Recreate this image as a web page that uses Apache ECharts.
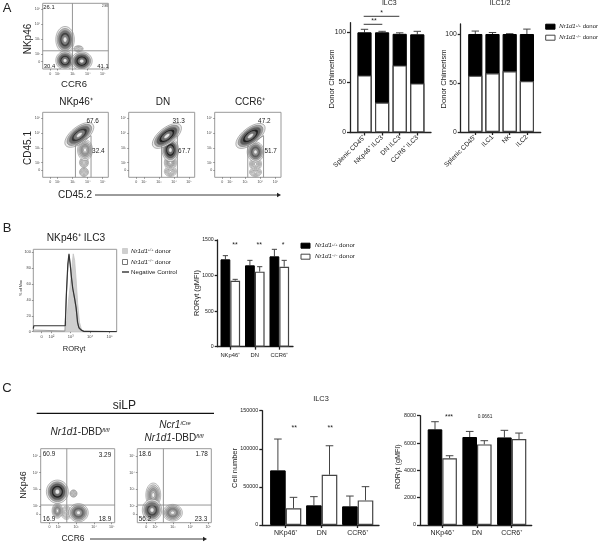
<!DOCTYPE html>
<html>
<head>
<meta charset="utf-8">
<title>Nr1d1 ILC3 figure</title>
<script src="https://cdn.jsdelivr.net/npm/echarts@6/dist/echarts.min.js"></script>
<style>
  html, body { margin: 0; padding: 0; background: #fff; }
  #chart { width: 600px; height: 543px; }
</style>
</head>
<body>
<div id="chart"></div>
<script>
// ---- flow axes (log decades) ----
const flowTickValues = [1.5, 2, 3, 4, 5];
const flowTickLabels = ['0', '10²', '10³', '10⁴', '10⁵'];

// contour blobs: x, y, x radius, y radius, tilt in degrees, density
const blobsTop = [[3.38, 2.36, 0.32, 0.2, 0, 0], [2.49, 2.97, 0.62, 0.88, 0, 0.85], [2.49, 1.57, 0.62, 0.62, 0, 0.95], [3.6, 1.53, 0.7, 0.62, 0, 1]];
const blobsNkp = [[3.75, 1.35, 0.3, 0.3, 0, 0], [3.75, 2.0, 0.3, 0.35, 0, 0.06], [3.82, 2.85, 0.5, 0.7, 0, 0.45], [3.44, 3.87, 1.15, 0.55, 38, 0.9]];
const blobsDn = [[3.76, 1.4, 0.4, 0.35, 0, 0.1], [3.76, 2.0, 0.4, 0.5, 0, 0.3], [3.76, 2.85, 0.55, 0.78, 0, 1], [3.53, 3.8, 1.15, 0.55, 38, 1]];
const blobsCcr = [[3.69, 1.35, 0.4, 0.3, 0, 0.05], [3.69, 1.9, 0.4, 0.45, 0, 0.15], [3.69, 2.72, 0.55, 0.68, 0, 0.75], [3.36, 3.8, 1.15, 0.55, 38, 1]];
const blobsWt = [[2.85, 2.75, 0.2, 0.22, 0, 0], [2.45, 1.6, 0.3, 0.4, 0, 0.05], [1.94, 1.72, 0.3, 0.45, 0, 0.5], [3.13, 1.6, 0.55, 0.55, 0, 0.7], [1.94, 2.86, 0.62, 0.7, 0, 1]];
const blobsKo = [[1.9, 2.66, 0.42, 0.72, 0, 0.45], [2.99, 1.6, 0.55, 0.5, 0, 0.55], [1.83, 1.76, 0.55, 0.65, 0, 0.85]];

// gates
const crossTop = [[[2.98, 1], [2.98, 5.4]], [[1, 2.22], [5.37, 2.22]]];
const gateLower = [[3.18, 1], [3.18, 3.15], [4.22, 3.82], [4.22, 1]];
const crossWt = [[[2.47, 1], [2.47, 5.44]], [[1, 2.06], [5.17, 2.06]]];

// histogram, panel B
const histGrey = [[2.7, 0], [2.8, 14], [2.88, 38], [2.98, 60], [3.05, 80], [3.13, 98], [3.2, 90], [3.28, 65], [3.36, 35], [3.45, 12], [3.55, 3], [3.65, 0]];
const histOpen = [[1.07, 2], [2.7, 1], [2.76, 40], [2.85, 80], [2.91, 96], [2.98, 84], [3.05, 66], [3.12, 52], [3.22, 38], [3.3, 24], [3.38, 8], [3.5, 2], [3.7, 1], [5.37, 0]];
const histNeg = [[1.07, 4], [1.1, 7.5], [2.72, 7.5], [2.78, 50], [2.85, 85], [2.91, 98], [2.97, 85], [3.03, 70], [3.1, 55], [3.2, 42], [3.28, 30], [3.35, 12], [3.42, 5], [3.55, 2], [3.7, 0], [5.37, 0]];

// panel A bars: white part, full height of the bar, top of error bar
const ilc3Cats = ['Splenic CD45⁺', 'NKp46⁺ ILC3', 'DN ILC3', 'CCR6⁺ ILC3'];
const ilc3Ko = [57, 30, 67, 49];
const ilc3Total = [100, 100, 98.5, 98];
const ilc3High = [103, 101, 99.5, 101];
const ilc12Cats = ['Splenic CD45⁺', 'ILC1', 'NK', 'ILC2'];
const ilc12Ko = [57.5, 60, 62, 52];
const ilc12Total = [100, 100, 100, 100];
const ilc12High = [103, 101.5, 100.3, 105];

// panel B bars
const groupCats = ['NKp46⁺', 'DN', 'CCR6⁺'];
const rorBWt = [1228, 1144, 1270];
const rorBWtHigh = [1280, 1214, 1369];
const rorBKo = [928, 1055, 1125];
const rorBKoHigh = [947, 1125, 1214];

// panel C bars
const cellWt = [71700, 25800, 24500];
const cellWtHigh = [112800, 37200, 38000];
const cellKo = [21900, 66000, 32300];
const cellKoHigh = [36300, 104000, 50300];
const rorCWt = [7000, 6440, 6410];
const rorCWtHigh = [7560, 6850, 6930];
const rorCKo = [4880, 5900, 6290];
const rorCKoHigh = [5070, 6170, 6730];

const FONT = '"Liberation Sans", Arial, sans-serif';
const INK = '#222';
const option = { animation: false, backgroundColor: '#fff', textStyle: { fontFamily: FONT }, grid: [], xAxis: [], yAxis: [], series: [], graphic: [] };

// density rings, outside in: size ratio, darkness
const RINGS = [[1, 0.1], [0.85, 0.4], [0.7, 0.7], [0.54, 0.95], [0.37, 0.62], [0.2, 0.12]];

function contourItem(params, api) {
  const c = api.coord([api.value(0), api.value(1)]);
  const s = api.size([api.value(2), api.value(3)]);
  const tilt = api.value(4) * Math.PI / 180;
  const density = api.value(5);
  return {
    type: 'group',
    children: RINGS.map(function (r) {
      const g = Math.round(255 - 235 * r[1] * density);
      return {
        type: 'ellipse', x: c[0], y: c[1], rotation: tilt,
        shape: { cx: 0, cy: 0, rx: s[0] * r[0], ry: s[1] * r[0] },
        style: { fill: 'rgb(' + g + ',' + g + ',' + g + ')', stroke: '#777', lineWidth: 0.5 }
      };
    })
  };
}

function errorItem(shift, cap) {
  return function (params, api) {
    const top = api.coord([api.value(0), api.value(1)]);
    const high = api.coord([api.value(0), api.value(2)]);
    const x = top[0] + shift;
    const lineStyle = { stroke: '#444', lineWidth: 1 };
    return {
      type: 'group',
      children: [
        { type: 'line', shape: { x1: x, y1: top[1], x2: x, y2: high[1] }, style: lineStyle },
        { type: 'line', shape: { x1: x - cap, y1: high[1], x2: x + cap, y2: high[1] }, style: lineStyle }
      ]
    };
  };
}

function addGrid(left, top, right, bottom, border) {
  option.grid.push({
    left: left, top: top, width: right - left, height: bottom - top, containLabel: false,
    show: !!border, borderColor: '#999', borderWidth: border ? 1 : 0, backgroundColor: 'transparent'
  });
  return option.grid.length - 1;
}

function flowPanel(box, range, blobs, gates) {
  const idx = addGrid(box[0], box[1], box[2], box[3], true);
  const tickText = function (v) { return flowTickLabels[flowTickValues.indexOf(v)]; };
  const axis = function (min, max) {
    return {
      type: 'value', gridIndex: idx, min: min, max: max, splitLine: { show: false },
      axisLine: { show: false },
      axisTick: { show: true, length: 1.5, customValues: flowTickValues, lineStyle: { color: '#555', width: 0.6 } },
      axisLabel: { show: true, customValues: flowTickValues, formatter: tickText, fontSize: 3.6, margin: 2.5, color: '#444', fontFamily: FONT }
    };
  };
  option.xAxis.push(axis(1, range[0]));
  option.yAxis.push(axis(1, range[1]));
  option.series.push({ type: 'custom', xAxisIndex: idx, yAxisIndex: idx, renderItem: contourItem, data: blobs, clip: true, encode: { x: 0, y: 1 } });
  gates.forEach(function (g) {
    option.series.push({ type: 'line', xAxisIndex: idx, yAxisIndex: idx, data: g, symbol: 'none', lineStyle: { color: '#8a8a8a', width: 0.9 }, z: 3 });
  });
}

function barPanel(p) {
  const idx = addGrid(p.left, p.top, p.right, p.bottom, false);
  const xMin = 1 - (p.first - p.left) / p.band;
  const slots = p.cats.map(function (c, i) { return i + 1; });
  const axisStyle = { color: '#222', width: 1.3 };
  option.xAxis.push({
    type: 'value', gridIndex: idx, min: xMin, max: xMin + (p.right - p.left) / p.band, splitLine: { show: false },
    axisLine: { show: true, lineStyle: axisStyle },
    axisTick: { show: true, length: 3, customValues: slots, lineStyle: axisStyle },
    axisLabel: {
      show: true, customValues: slots, formatter: function (v) { return p.cats[v - 1]; },
      rotate: p.rotate || 0, fontSize: p.xFont, margin: p.xMargin, color: INK, fontFamily: FONT
    }
  });
  option.yAxis.push({
    type: 'value', gridIndex: idx, min: 0, max: p.yMax, splitLine: { show: false },
    axisLine: { show: true, lineStyle: axisStyle },
    axisTick: { show: true, length: 3, customValues: p.ticks, lineStyle: axisStyle },
    axisLabel: { show: true, customValues: p.ticks, formatter: function (v) { return String(v); }, fontSize: p.yFont, margin: 4, color: INK, fontFamily: FONT }
  });
  return { idx: idx, slots: slots };
}

function pairs(xs, ys) { return xs.map(function (x, i) { return [x, ys[i]]; }); }

const blackBar = { color: '#000', borderColor: '#000', borderWidth: 1 };
const whiteBar = { color: '#fff', borderColor: '#444', borderWidth: 1.2 };

// black bar to the full height, white part drawn over its lower end
function stackedBars(p, ko, total, high) {
  const b = barPanel(p);
  const common = { type: 'bar', xAxisIndex: b.idx, yAxisIndex: b.idx, barWidth: p.barWidth, barGap: '-100%' };
  option.series.push(Object.assign({ data: pairs(b.slots, total), itemStyle: blackBar }, common));
  option.series.push(Object.assign({ data: pairs(b.slots, ko), itemStyle: whiteBar }, common));
  option.series.push({
    type: 'custom', xAxisIndex: b.idx, yAxisIndex: b.idx, renderItem: errorItem(0, p.cap), z: 1,
    data: b.slots.map(function (s, i) { return [s, total[i], high[i]]; }), encode: { x: 0, y: [1, 2] }
  });
}

function groupedBars(p, wt, wtHigh, ko, koHigh) {
  const b = barPanel(p);
  const common = { type: 'bar', xAxisIndex: b.idx, yAxisIndex: b.idx, barWidth: p.barWidth, barGap: 0 };
  option.series.push(Object.assign({ data: pairs(b.slots, wt), itemStyle: blackBar }, common));
  option.series.push(Object.assign({ data: pairs(b.slots, ko), itemStyle: whiteBar }, common));
  [[wt, wtHigh, -p.barWidth / 2], [ko, koHigh, p.barWidth / 2]].forEach(function (e) {
    option.series.push({
      type: 'custom', xAxisIndex: b.idx, yAxisIndex: b.idx, renderItem: errorItem(e[2], p.cap), z: 1,
      data: b.slots.map(function (s, i) { return [s, e[0][i], e[1][i]]; }), encode: { x: 0, y: [1, 2] }
    });
  });
}

function label(x, y, text, size, opts) {
  const o = opts || {};
  option.graphic.push({
    type: 'text', x: x, y: y, rotation: o.rotation || 0, z: 20, silent: true,
    style: {
      text: text, rich: o.rich, fill: o.fill || INK, align: o.align || 'center', verticalAlign: 'middle',
      fontSize: size, fontFamily: FONT, fontStyle: o.italic ? 'italic' : 'normal'
    }
  });
}

function rule(x1, y1, x2, y2, width, color) {
  option.graphic.push({ type: 'line', z: 20, silent: true, shape: { x1: x1, y1: y1, x2: x2, y2: y2 }, style: { stroke: color || '#222', lineWidth: width } });
}

function arrow(x1, x2, y) {
  rule(x1, y, x2 - 3, y, 0.9);
  option.graphic.push({ type: 'polygon', z: 20, silent: true, shape: { points: [[x2 - 4, y - 2.2], [x2, y], [x2 - 4, y + 2.2]] }, style: { fill: '#222' } });
}

function swatch(x, y, w, h, fill, stroke) {
  option.graphic.push({ type: 'rect', z: 20, silent: true, shape: { x: x, y: y - h / 2, width: w, height: h }, style: { fill: fill, stroke: stroke, lineWidth: 1 } });
}

function donor(sup, size, suffix) {
  return {
    text: '{i|Nr1d1}{s|' + sup + '}{n|' + (suffix === undefined ? ' donor' : suffix) + '}',
    rich: {
      i: { fontStyle: 'italic', fontSize: size, fontFamily: FONT, fill: INK },
      s: { fontStyle: 'italic', fontSize: size * 0.62, fontFamily: FONT, fill: INK, verticalAlign: 'top' },
      n: { fontSize: size, fontFamily: FONT, fill: INK }
    }
  };
}

// ---- panel A ----
flowPanel([42.7, 3.3, 108.3, 69], [5.37, 5.4], blobsTop, crossTop);
flowPanel([42.7, 112.3, 108.3, 177.3], [5.37, 5.4], blobsNkp, [gateLower]);
flowPanel([128.7, 112.3, 194.7, 177.3], [5.37, 5.4], blobsDn, [gateLower]);
flowPanel([214.7, 112.3, 281, 177.3], [5.37, 5.4], blobsCcr, [gateLower]);

stackedBars({
  left: 350, right: 431, top: 22.7, bottom: 132.5, first: 364.5, band: 17.6, yMax: 109.6, ticks: [0, 50, 100],
  cats: ilc3Cats, rotate: 45, xFont: 6.6, xMargin: 4, yFont: 6.8, barWidth: 14.2, cap: 3.7
}, ilc3Ko, ilc3Total, ilc3High);
stackedBars({
  left: 460.7, right: 540.7, top: 24, bottom: 132, first: 475.3, band: 17.2, yMax: 110.2, ticks: [0, 50, 100],
  cats: ilc12Cats, rotate: 45, xFont: 6.6, xMargin: 4, yFont: 6.8, barWidth: 14.2, cap: 3.7
}, ilc12Ko, ilc12Total, ilc12High);

label(7, 8, 'A', 13, { align: 'center' });
label(28, 39, 'NKp46', 10, { rotation: Math.PI / 2 });
label(74, 84, 'CCR6', 9.5);
label(49, 7, '26.1', 5.8);
label(105, 6, '2.98', 3);
label(49.5, 66.5, '30.4', 5.8);
label(103, 66.5, '41.1', 5.8);
label(76, 102.7, 'NKp46⁺', 10);
label(163, 102.7, 'DN', 10);
label(250, 102.7, 'CCR6⁺', 10);
label(92.7, 121.7, '67.6', 6.4);
label(98.3, 151.7, '32.4', 6.4);
label(178.7, 121.7, '31.3', 6.4);
label(184.3, 151.7, '67.7', 6.4);
label(264.3, 121.7, '47.2', 6.4);
label(270.7, 151.7, '51.7', 6.4);
label(28, 148, 'CD45.1', 10, { rotation: Math.PI / 2 });
label(75, 195, 'CD45.2', 10);
arrow(95, 281, 195);
label(389.3, 3.5, 'ILC3', 7);
label(500, 3.5, 'ILC1/2', 7);
label(331.7, 79, 'Donor Chimerism', 7.6, { rotation: Math.PI / 2 });
label(444.3, 79, 'Donor Chimerism', 7.6, { rotation: Math.PI / 2 });
rule(363.7, 16.3, 399.3, 16.3, 0.9);
rule(363.7, 24.3, 382.3, 24.3, 0.9);
label(381.7, 13.5, '*', 7);
label(374, 21.5, '**', 7);
swatch(545.7, 26.7, 9.3, 5, '#000', '#000');
swatch(545.7, 37.7, 9.3, 5, '#fff', '#444');
const a1 = donor('+/+', 6);
const a2 = donor('−/−', 6);
label(559.3, 26.7, a1.text, 6, { rich: a1.rich, align: 'left' });
label(559.3, 37.7, a2.text, 6, { rich: a2.rich, align: 'left' });

// ---- panel B ----
const histIdx = addGrid(33.3, 249.3, 116.7, 331.7, true);
const histTicks = [0, 20, 40, 60, 80, 100];
option.xAxis.push({
  type: 'value', gridIndex: histIdx, min: 1.07, max: 5.37, splitLine: { show: false }, axisLine: { show: false },
  axisTick: { length: 1.5, customValues: flowTickValues, lineStyle: { color: '#555', width: 0.6 } },
  axisLabel: { customValues: flowTickValues, formatter: function (v) { return flowTickLabels[flowTickValues.indexOf(v)]; }, fontSize: 4, margin: 3, color: '#444', fontFamily: FONT }
});
option.yAxis.push({
  type: 'value', gridIndex: histIdx, min: 0, max: 103.7, splitLine: { show: false }, axisLine: { show: false },
  axisTick: { length: 1.5, customValues: histTicks, lineStyle: { color: '#555', width: 0.6 } },
  axisLabel: { customValues: histTicks, fontSize: 3.8, margin: 2.5, color: '#444', fontFamily: FONT }
});
option.series.push({ type: 'line', xAxisIndex: histIdx, yAxisIndex: histIdx, data: histGrey, symbol: 'none', lineStyle: { color: '#c4c4c4', width: 0.8 }, areaStyle: { color: '#cfcfcf', opacity: 1 } });
option.series.push({ type: 'line', xAxisIndex: histIdx, yAxisIndex: histIdx, data: histOpen, symbol: 'none', lineStyle: { color: '#888', width: 0.8 } });
option.series.push({ type: 'line', xAxisIndex: histIdx, yAxisIndex: histIdx, data: histNeg, symbol: 'none', lineStyle: { color: '#333', width: 1.2 } });

groupedBars({
  left: 217.7, right: 293, top: 240, bottom: 346.7, first: 230.3, band: 24.5, yMax: 1500, ticks: [0, 500, 1000, 1500],
  cats: groupCats, xFont: 5.8, xMargin: 5.5, yFont: 5.2, barWidth: 9.8, cap: 2.6
}, rorBWt, rorBWtHigh, rorBKo, rorBKoHigh);

label(7, 228, 'B', 13);
label(76, 238, 'NKp46⁺ ILC3', 10.2);
label(21, 288, '% of Max', 3.8, { rotation: Math.PI / 2 });
label(74, 349, 'RORγt', 7.5);
swatch(122.5, 251, 5, 5, '#cfcfcf', '#cfcfcf');
swatch(122.5, 262, 5, 5, '#fff', '#777');
rule(122, 272, 129, 272, 1.3);
const b1 = donor('+/+', 6.2);
const b2 = donor('−/−', 6.2);
label(131, 251, b1.text, 6.2, { rich: b1.rich, align: 'left' });
label(131, 262, b2.text, 6.2, { rich: b2.rich, align: 'left' });
label(131, 272, 'Negative Control', 6.2, { align: 'left' });
label(197, 293, 'RORγt (gMFI)', 7.4, { rotation: Math.PI / 2 });
label(235, 245.5, '**', 7);
label(259.3, 245.5, '**', 7);
label(283, 245.5, '*', 7);
swatch(301, 245.7, 9, 5, '#000', '#000');
swatch(301, 256.7, 9, 5, '#fff', '#444');
label(315, 245.7, b1.text, 6.2, { rich: b1.rich, align: 'left' });
label(315, 256.7, b2.text, 6.2, { rich: b2.rich, align: 'left' });

// ---- panel C ----
flowPanel([40.7, 448.7, 114.7, 522.7], [5.17, 5.44], blobsWt, crossWt);
flowPanel([137.3, 448.7, 211.3, 522.7], [5.17, 5.44], blobsKo, crossWt);

groupedBars({
  left: 262.3, right: 379, top: 410.7, bottom: 525, first: 285.7, band: 36, yMax: 150000, ticks: [0, 50000, 100000, 150000],
  cats: groupCats, xFont: 7, xMargin: 5, yFont: 5.4, barWidth: 15.6, cap: 3.8
}, cellWt, cellWtHigh, cellKo, cellKoHigh);
groupedBars({
  left: 420, right: 531.7, top: 415.7, bottom: 525, first: 442.3, band: 34.7, yMax: 8000, ticks: [0, 2000, 4000, 6000, 8000],
  cats: groupCats, xFont: 7, xMargin: 5, yFont: 5.4, barWidth: 14.6, cap: 3.8
}, rorCWt, rorCWtHigh, rorCKo, rorCKoHigh);

label(7, 388, 'C', 13);
label(124.3, 406, 'siLP', 12);
rule(36.7, 413.3, 214, 413.3, 1.2, '#111');
const dbdRich = {
  i: { fontStyle: 'italic', fontSize: 10, fontFamily: FONT, fill: INK },
  n: { fontSize: 10, fontFamily: FONT, fill: INK },
  s: { fontStyle: 'italic', fontSize: 5.6, fontFamily: FONT, fill: INK, verticalAlign: 'top' }
};
label(80, 432.3, '{i|Nr1d1}{n|-DBD}{s|fl/fl}', 10, { rich: dbdRich });
label(175, 425, '{i|Ncr1}{s|iCre}', 10, { rich: dbdRich });
label(174, 438, '{i|Nr1d1}{n|-DBD}{s|fl/fl}', 10, { rich: dbdRich });
label(23.3, 485, 'NKp46', 9, { rotation: Math.PI / 2 });
label(73, 539, 'CCR6', 8.5);
arrow(90, 207, 539);
label(49, 454.3, '60.9', 6.4);
label(105, 455, '3.29', 6.4);
label(49, 519, '16.9', 6.4);
label(105, 519, '18.9', 6.4);
label(145, 454.3, '18.6', 6.4);
label(201.7, 454.3, '1.78', 6.4);
label(145, 519, '56.2', 6.4);
label(201, 519, '23.3', 6.4);
label(321, 399, 'ILC3', 7.4);
label(235, 468, 'Cell number', 7.4, { rotation: Math.PI / 2 });
label(294.3, 428, '**', 7);
label(330.3, 428, '**', 7);
label(397.7, 466.7, 'RORγt (gMFI)', 7.2, { rotation: Math.PI / 2 });
label(449, 417, '***', 7);
label(485, 416.3, '0.0661', 4.8);

const chart = echarts.init(document.getElementById('chart'), null, { renderer: 'canvas' });
chart.setOption(option);
</script>
</body>
</html>
